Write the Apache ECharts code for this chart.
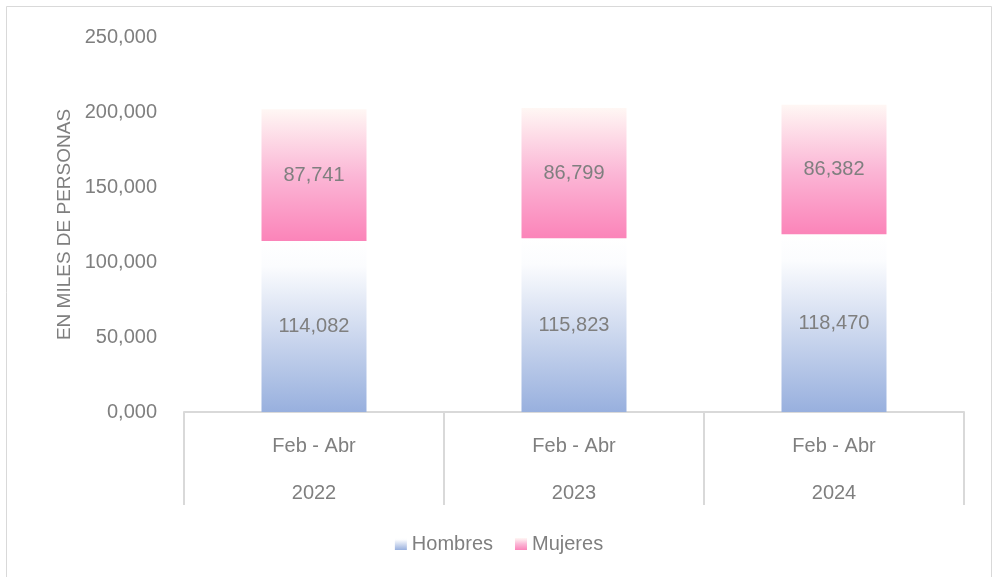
<!DOCTYPE html>
<html lang="es">
<head>
    <meta charset="UTF-8">
    <title>Población por sexo</title>
    <script src="https://cdn.jsdelivr.net/npm/echarts@6/dist/echarts.min.js"></script>
    <style>
        html, body { margin: 0; padding: 0; background: #fff; }
        #main { width: 998px; height: 577px; }
    </style>
</head>
<body>
    <div id="main"></div>
    <script>
        // datos
        const periodos = ['Feb - Abr', 'Feb - Abr', 'Feb - Abr'];
        const anios = ['2022', '2023', '2024'];
        const hombres = [114082, 115823, 118470];
        const mujeres = [87741, 86799, 86382];
        const yTicks = [0, 50000, 100000, 150000, 200000, 250000];

        const fuente = "'Liberation Sans', 'DejaVu Sans', sans-serif";
        const gris = '#7f7f7f';
        const fmt = v => v === 0 ? '0,000' : v.toLocaleString('en-US');

        const myChart = echarts.init(document.getElementById('main'));

        const option = {
            backgroundColor: '#fff',
            textStyle: { fontFamily: fuente },
            graphic: [{
                type: 'rect',
                shape: { x: 6.5, y: 6.5, width: 985, height: 580 },
                style: { fill: 'none', stroke: '#d9d9d9', lineWidth: 1 },
                silent: true
            }],
            grid: { left: 184, right: 34, top: 37, bottom: 165 },
            legend: {
                data: ['Hombres', 'Mujeres'],
                left: 'center',
                top: 529,
                icon: 'rect',
                itemWidth: 12,
                itemHeight: 12,
                itemGap: 22,
                textStyle: { color: gris, fontSize: 20, fontFamily: fuente }
            },
            xAxis: {
                type: 'category',
                data: periodos.map((p, i) => p + '\n' + anios[i]),
                axisLine: { lineStyle: { color: '#d9d9d9', width: 2 } },
                axisTick: { show: true, length: 93, lineStyle: { color: '#d9d9d9', width: 2 } },
                axisLabel: {
                    color: gris,
                    fontSize: 20,
                    lineHeight: 47,
                    margin: 11,
                    fontFamily: fuente
                }
            },
            yAxis: {
                type: 'value',
                min: yTicks[0],
                max: yTicks[yTicks.length - 1],
                interval: yTicks[1] - yTicks[0],
                name: 'EN MILES DE PERSONAS',
                nameLocation: 'middle',
                nameGap: 110,
                nameTextStyle: { color: gris, fontSize: 19, fontFamily: fuente },
                axisLine: { show: false },
                axisTick: { show: false },
                splitLine: { show: false },
                axisLabel: {
                    color: gris,
                    fontSize: 20,
                    margin: 27,
                    fontFamily: fuente,
                    formatter: fmt
                }
            },
            series: [
                {
                    name: 'Hombres',
                    type: 'bar',
                    stack: 'total',
                    barWidth: 105,
                    data: hombres,
                    itemStyle: {
                        color: new echarts.graphic.LinearGradient(0, 0, 0, 1, [
                            { offset: 0, color: '#ffffff' },
                            { offset: 0.15, color: '#fbfcfe' },
                            { offset: 0.5, color: '#d2dcf0' },
                            { offset: 1, color: '#98b0de' }
                        ])
                    },
                    label: {
                        show: true,
                        position: 'inside',
                        color: gris,
                        fontSize: 20,
                        fontFamily: fuente,
                        formatter: p => fmt(p.value)
                    }
                },
                {
                    name: 'Mujeres',
                    type: 'bar',
                    stack: 'total',
                    barWidth: 105,
                    data: mujeres,
                    itemStyle: {
                        color: new echarts.graphic.LinearGradient(0, 0, 0, 1, [
                            { offset: 0, color: '#fff7f4' },
                            { offset: 0.5, color: '#fbb7d6' },
                            { offset: 1, color: '#fb84b9' }
                        ])
                    },
                    label: {
                        show: true,
                        position: 'inside',
                        color: gris,
                        fontSize: 20,
                        fontFamily: fuente,
                        formatter: p => fmt(p.value)
                    }
                }
            ]
        };

        myChart.setOption(option);
    </script>
</body>
</html>
